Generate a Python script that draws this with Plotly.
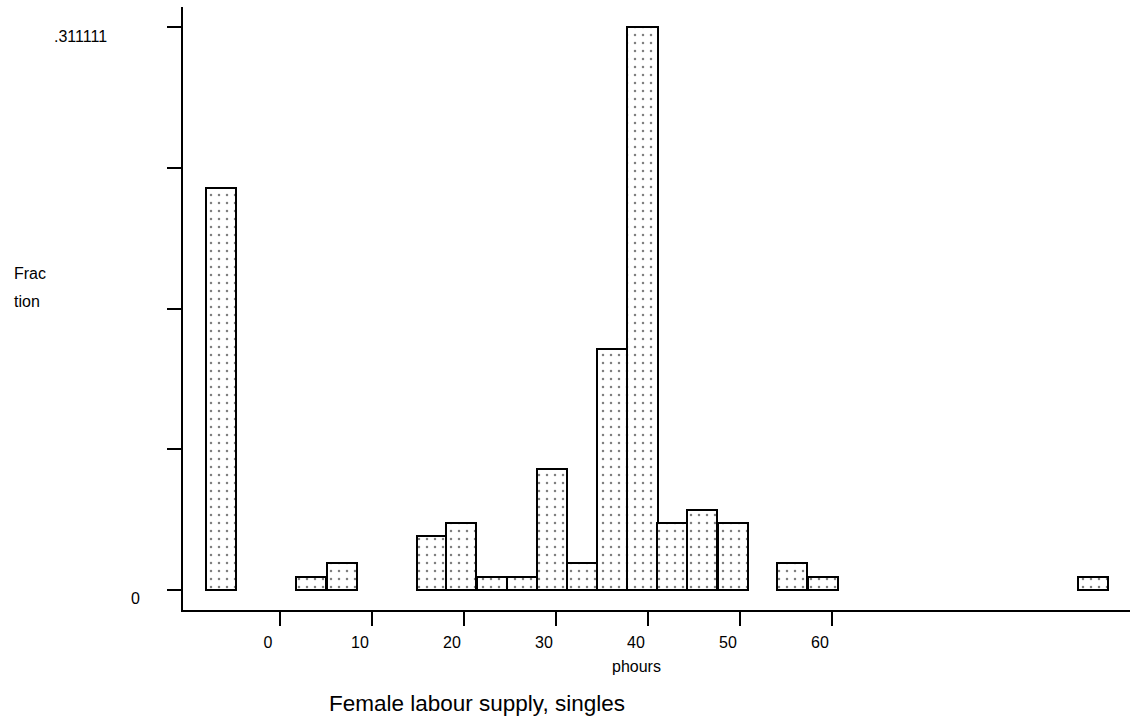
import plotly.graph_objects as go

# Data (Stata-style histogram of phours, fraction per bin)
bin_centers = [-6.4, 3.4, 6.7, 16.5, 19.7, 23.0, 26.3, 29.6, 32.8, 36.1,
               39.4, 42.6, 45.9, 49.2, 55.7, 59.0, 88.4]
fractions = [0.2222, 0.0074, 0.0148, 0.0296, 0.0370, 0.0074, 0.0074, 0.0667,
             0.0148, 0.1333, 0.3111, 0.0370, 0.0444, 0.0370, 0.0148, 0.0074, 0.0074]
bin_width = 3.27

x_tickvals = [0, 10, 20, 30, 40, 50, 60]
x_ticktext = ["0", "10", "20", "30", "40", "50", "60"]
y_tickvals = [0, 0.077778, 0.155556, 0.233333, 0.311111]

FONT = "Arial, 'Liberation Sans', sans-serif"
FS = 16

fig = go.Figure()
fig.add_trace(go.Bar(
    x=bin_centers,
    y=fractions,
    width=[bin_width] * len(bin_centers),
    marker=dict(
        color="white",
        line=dict(color="black", width=2),
        pattern=dict(shape=".", fgcolor="black", bgcolor="white",
                     size=8, solidity=0.075, fillmode="overlay"),
    ),
    showlegend=False,
    hoverinfo="skip",
))

W, H = 1135, 724
L, R, T, B = 183, 5, 7, 114

fig.update_layout(
    width=W, height=H,
    margin=dict(l=L, r=R, t=T, b=B, autoexpand=False),
    paper_bgcolor="white",
    plot_bgcolor="white",
    font=dict(family=FONT, color="black", size=FS),
    bargap=0,
)

fig.update_xaxes(
    range=[-10.543, 92.391],
    showgrid=False, zeroline=False,
    showline=True, linecolor="black", linewidth=2,
    ticks="outside", ticklen=14, tickwidth=2, tickcolor="black",
    tickvals=x_tickvals, ticktext=x_ticktext,
    tickfont=dict(family=FONT, size=FS, color="black"),
    ticklabelshift=-12, ticklabelstandoff=3,
    automargin=False,
)
fig.update_yaxes(
    range=[-0.011052, 0.32217],
    showgrid=False, zeroline=False,
    showline=True, linecolor="black", linewidth=2,
    ticks="outside", ticklen=14, tickwidth=2, tickcolor="black",
    tickvals=y_tickvals, showticklabels=False,
    automargin=False,
)

plot_w = W - L - R
plot_h = H - T - B

def px_x(px):
    return (px - L) / plot_w

def px_y(py):
    return (H - B - py) / plot_h

font = dict(family=FONT, size=FS, color="black")
annotations = [
    dict(text=".311111", xref="paper", yref="y", x=px_x(109), y=0.311111,
         xanchor="right", yanchor="middle", yshift=-9, showarrow=False, font=font),
    dict(text="0", xref="paper", yref="y", x=px_x(142), y=0,
         xanchor="right", yanchor="middle", yshift=-8, showarrow=False, font=font),
    dict(text="Frac", xref="paper", yref="paper", x=px_x(12), y=px_y(273),
         xanchor="left", yanchor="middle", showarrow=False, font=font),
    dict(text="tion", xref="paper", yref="paper", x=px_x(12), y=px_y(301),
         xanchor="left", yanchor="middle", showarrow=False, font=font),
    dict(text="phours", xref="paper", yref="paper", x=px_x(636), y=px_y(666),
         xanchor="center", yanchor="middle", showarrow=False, font=font),
    dict(text="Female labour supply, singles", xref="paper", yref="paper",
         x=px_x(477), y=px_y(703), xanchor="center", yanchor="middle",
         showarrow=False, font=dict(family=FONT, size=22.5, color="black")),
]
fig.update_layout(annotations=annotations)

fig.write_html(
    "out.html",
    config={"displayModeBar": False},
    post_script="document.body.style.margin='0';document.body.style.overflow='hidden';",
)
